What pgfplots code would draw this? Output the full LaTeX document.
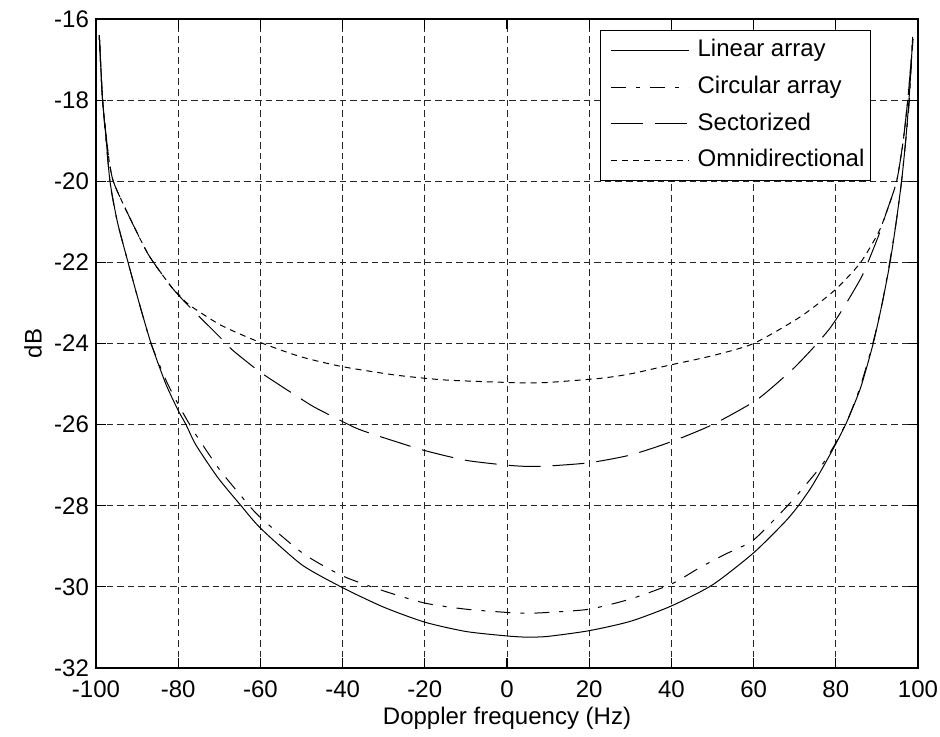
\documentclass[border=0pt]{standalone}
\usepackage{fontspec}
\setmainfont{Liberation Sans}
\usepackage{pgfplots}
\pgfplotsset{compat=1.18}
\newcommand\lab{\fontsize{12}{14}\selectfont}

\begin{document}
\begin{tikzpicture}
\begin{axis}[
  scale only axis, width=411pt, height=324.5pt,
  xmin=-100, xmax=100, ymin=-32, ymax=-16,
  xtick={-100,-80,...,100}, ytick={-32,-30,...,-16},
  tick pos=both, tick align=inside, major tick length=5pt,
  tick style={black, line width=0.6pt},
  axis line style={line width=0.6pt},
  grid=major,
  grid style={black!85, line width=0.5pt, dash pattern=on 3.3pt off 2pt},
  /pgf/number format/assume math mode=true,
  tick label style={font=\lab},
  xticklabel style={inner xsep=0pt, inner ysep=4pt, yshift=-2pt},
  yticklabel style={inner ysep=1pt},
  label style={font=\lab},
  xlabel={Doppler frequency (Hz)}, ylabel={dB},
  xlabel style={at={(axis description cs:0.5,-0.078)}, anchor=center},
  ylabel style={at={(axis description cs:-0.0766,0.5)}, anchor=center},
  legend cell align=left,
  legend image code/.code={\path (-2pt,0pt); \draw[#1] (0pt,0pt) -- (39pt,0pt); \path (43pt,0pt);},
  legend style={at={(rel axis cs:0.9428,0.983)}, anchor=north east,
    font=\lab, draw=black, line width=0.6pt, fill=white,
    inner xsep=3pt, inner ysep=4.5pt, row sep=7.2pt,
    nodes={inner sep=0pt, text height=8.6pt, text depth=2.5pt}},
  every axis plot/.append style={black, line width=0.5pt, smooth, tension=0.4}]

% linear array
\addplot[solid] coordinates {(-99.2,-16.4) (-98.8,-17.2) (-98.4,-18) (-97.5,-19) (-96.6,-20) (-94.8,-21) (-92.2,-22) (-89.5,-23) (-86.6,-24) (-83,-25.0) (-80,-25.65) (-78.1,-26) (-75.7,-26.5) (-70.4,-27.3) (-64.7,-28) (-60,-28.55) (-50,-29.45) (-40,-30.02) (-30,-30.5) (-20,-30.87) (-10,-31.1) (0,-31.21) (5,-31.24) (10,-31.22) (20,-31.08) (30,-30.85) (40,-30.47) (50,-29.95) (59.9,-29.17) (67.6,-28.4) (70.9,-28) (74,-27.55) (76.6,-27.1) (79.6,-26.55) (82.6,-25.95) (86,-25.1) (89.1,-24) (91.3,-23) (93.2,-22) (94.7,-21) (96,-20) (97,-19) (97.8,-18) (98.3,-17.2) (98.7,-16.44)};
% circular array
\addplot[dash pattern=on 7.5pt off 5pt on 2pt off 5pt] coordinates {(-99.2,-16.4) (-98.4,-18) (-96.6,-20) (-94.8,-21) (-92.2,-22) (-89.5,-23) (-86.6,-24) (-83,-24.9) (-80,-25.5) (-76,-26.2) (-70,-27.1) (-65,-27.72) (-60.4,-28.25) (-49.7,-29.17) (-40,-29.73) (-30,-30.1) (-20,-30.4) (-10,-30.55) (0,-30.63) (5,-30.65) (10,-30.63) (20,-30.55) (30,-30.3) (40,-29.93) (47,-29.52) (53,-29.2) (59.9,-28.85) (67.6,-28.07) (71.3,-27.65) (76.6,-27.0) (80,-26.45) (83,-25.85) (86,-25.05) (89,-24) (91.3,-23) (93.1,-22) (94.7,-21) (96,-20) (97.2,-18.8) (97.9,-18) (98.7,-16.4)};
% sectorized
\addplot[dash pattern=on 16pt off 6pt] coordinates {(-99.2,-16.4) (-98.4,-18) (-97,-19.35) (-95.8,-20) (-92.5,-20.75) (-87.3,-21.8) (-82,-22.56) (-80,-22.8) (-77.3,-23.09) (-69.6,-23.87) (-66.7,-24.17) (-60.4,-24.68) (-55.4,-25.02) (-47.7,-25.52) (-44,-25.72) (-37.1,-26.07) (-33.1,-26.22) (-27,-26.42) (-20,-26.64) (-10,-26.88) (0,-27.0) (5,-27.03) (10,-27.02) (20,-26.94) (30,-26.75) (40,-26.42) (50,-26.0) (60.75,-25.39) (68.9,-24.69) (71.7,-24.41) (75,-24.05) (78.6,-23.62) (82,-23.1) (85.5,-22.5) (87,-22.2) (90.3,-21.37) (92.2,-20.8) (94.8,-20.0) (96.4,-19.0) (97.5,-18) (98.2,-17.2) (98.8,-16.5)};
% omnidirectional
\addplot[dash pattern=on 3pt off 2.5pt] coordinates {(-99.2,-16.4) (-98.4,-18) (-97,-19.35) (-95.8,-20) (-92.5,-20.75) (-87.3,-21.8) (-82,-22.56) (-80,-22.78) (-77.3,-23.05) (-69.6,-23.55) (-60.4,-23.96) (-50.4,-24.32) (-40.1,-24.57) (-27,-24.78) (-15,-24.9) (0,-24.96) (5,-24.97) (10,-24.96) (22.6,-24.86) (30,-24.75) (39.7,-24.53) (50,-24.3) (60,-24.0) (71.4,-23.34) (79.8,-22.68) (85.9,-22.02) (90.3,-21.28) (92.2,-20.8) (94.8,-20.0) (96.4,-19.0) (97.5,-18) (98.2,-17.2) (98.8,-16.5)};
\legend{Linear array, Circular array, Sectorized, Omnidirectional}
\end{axis}
\path (current axis.south west) ++(-48pt,-34pt) rectangle ([shift={(11pt,9.5pt)}]current axis.north east);
\end{tikzpicture}
\end{document}
